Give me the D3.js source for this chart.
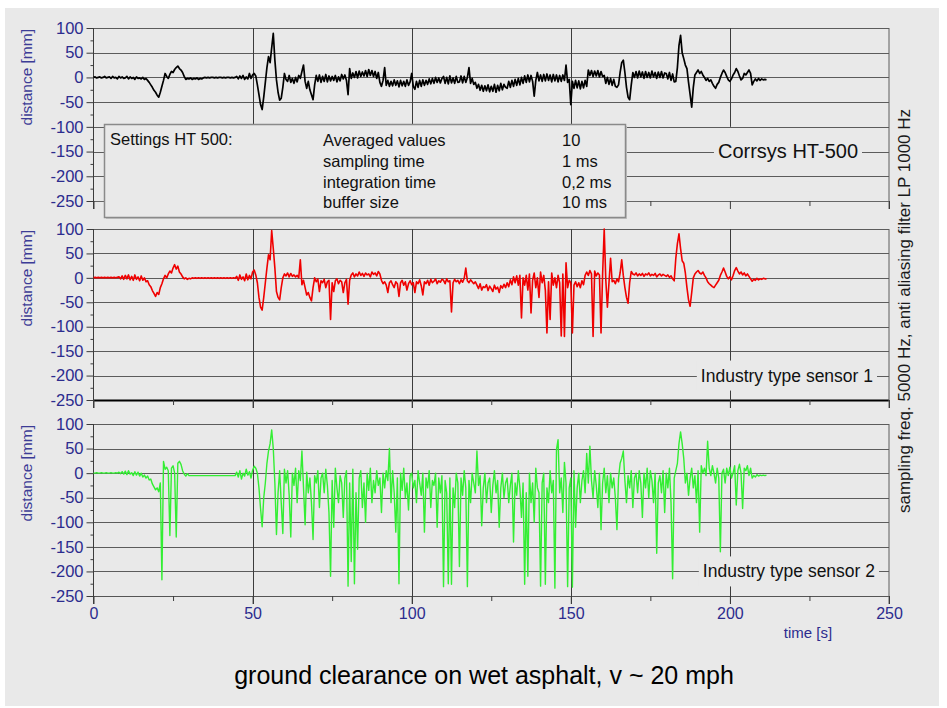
<!DOCTYPE html>
<html>
<head>
<meta charset="utf-8">
<script src="https://cdn.jsdelivr.net/npm/d3@7"></script>
<style>
  body { margin: 0; background: #fff; }
  text { font-family: Arial, "Liberation Sans", sans-serif; }
</style>
</head>
<body>
<svg id="chart" width="947" height="708"></svg>
<script>
// samples every 0.5 s (mm)
var step = 0.5;

var ht500 = [
  0,1,-1,0,1,-1,0,2,-1,0, 1,-2,2,-1,0,-3,2,-1,1,-2,
  -1,2,-3,1,-2,0,-4,1,-2,-1, -3,0,-4,-2,-6,-10,-15,-20,-26,-30,
  -36,-40,-30,-18,-6,8,2,-2,6,12, 10,16,20,23,18,15,10,2,-4,-2,
  -3,-1,-4,-2,-3,-1,-4,-2,-3,-1, 0,-1,0,-1,0,0,-1,0,-1,0,
  0,-1,0,-1,0,0,-1,0,-1,0, 2,-3,3,-2,4,-4,1,-3,8,-2,
  5,8,3,-15,-35,-55,-65,-40,-10,20, 42,30,60,89,35,-5,-30,-46,-42,-20,
  8,-4,-8,4,-10,-2,-12,0,-9,4, -2,12,25,-8,-22,-8,-25,-35,-45,-15,
  4,-8,5,-10,2,-8,6,-9,3,-7, 2,-6,4,-9,1,-7,6,-3,5,-6,
  -35,18,-2,9,0,12,-1,13,2,11, 3,14,2,16,4,14,2,12,-2,10,
  -10,-18,-6,20,-16,-6,-18,-8,-17,-5, -16,-7,-19,-6,-17,-8,-18,-5,-16,-9,
  8,-18,-24,-8,-20,-6,-18,-5,-16,-6, -14,-3,-13,-2,-12,0,-10,-1,-11,-2,
  2,-12,0,-13,3,-11,-1,-12,2,-10, -9,3,-11,2,-10,0,20,-12,-2,-14,
  -10,-22,-14,-26,-16,-28,-17,-27,-15,-29, -18,-28,-14,-30,-16,-27,-12,-25,-14,-20,
  -22,-8,-20,-6,-18,-4,-16,-2,-15,0, -12,3,-10,5,-9,4,-8,-38,-6,10,
  -7,5,-8,6,-7,7,-6,5,-9,6, -7,5,-9,4,-8,5,-6,25,-10,-4,
  -55,-8,-22,-6,-21,-7,-23,-8,-21,-6, -18,15,4,14,2,13,3,14,1,12,
  2,4,-12,0,-14,-2,-16,-4,-18,-20, -15,10,30,35,10,-20,-40,-45,-15,10,
  0,12,-1,13,1,11,-2,12,0,10, -1,13,1,10,-2,11,0,12,-1,9,
  8,-3,10,-6,7,-9,-8,20,65,85, 50,38,25,18,-10,-35,-60,-20,5,10,
  15,8,12,5,0,-6,-2,-8,-5,-12, -18,-22,-14,-10,0,8,15,10,2,-5,
  -8,-3,5,10,18,12,3,-5,-2,8, 5,10,15,8,-15,-8,-3,-7,-2,-6, -3,-5,-4,-5
];

var sensor1 = [
  0,1,0,1,0,1,0,1,0,1, 0,1,0,1,0,1,2,-2,4,-3,
  5,-2,6,-4,3,-5,6,-3,2,-6, 4,-5,0,-8,-6,-14,-18,-26,-32,-38,
  -30,-34,-20,-12,-2,5,0,8,14,10, 20,27,18,24,12,8,2,-2,0,-3,
  -1,-2,0,-1,0,-1,0,-1,0,-1, 0,-1,0,-1,0,-1,0,-1,0,-1,
  0,-1,0,-1,0,-1,0,-1,0,-1, 3,-5,6,-3,2,-6,8,-4,5,-2,
  12,16,6,-10,-40,-60,-66,-40,-10,20, 47,37,97,60,20,-28,-40,-45,-20,0,
  8,4,10,2,9,3,6,2,5,0, 37,-14,-5,-20,-35,-30,-40,-47,-20,0,
  -8,-2,-28,-6,-10,-3,-20,-8,-5,-85, -10,-28,-6,-2,-12,-5,-8,-30,-10,-3,
  -54,-5,6,10,2,8,4,12,5,9, 3,10,6,8,2,12,7,10,4,13,
  8,-5,-12,-8,-15,-30,-10,-6,-14,-20, -8,-12,-38,-10,-5,-15,-8,-25,-12,-6,
  -14,-10,-30,-8,-12,-4,-16,-35,-8,-12, -5,-15,-3,-10,-7,-2,-12,-6,-9,-3,
  -5,-12,-2,-8,-6,-70,-10,-3,-8,-5, -12,-4,-9,-1,20,-6,-10,-4,-8,-12,
  -8,-15,-22,-12,-25,-18,-20,-14,-26,-17, -22,-28,-15,-23,-19,-30,-16,-21,-13,-20,
  -10,-18,-4,-14,2,-10,4,-15,5,-82, 0,-15,5,-25,8,-72,-5,10,-20,0,
  -40,12,-10,5,-25,-113,-8,-85,10,-15, 0,-20,5,-10,-119,8,-120,31,-20,-5,
  -10,-113,-15,-8,-18,-10,-20,-6,-14,5, 12,5,15,8,-120,14,4,10,6,-113,
  8,100,-5,-60,-10,40,-8,-5,-12,-2, -8,10,37,5,-20,-40,-52,-10,13,8,
  6,10,4,8,5,9,3,8,6,10, 4,7,5,9,2,6,8,4,7,5,
  3,6,1,4,-2,-6,40,70,90,60, 35,30,10,-20,-45,-58,-30,0,8,12,
  15,10,8,12,5,0,-8,-12,-15,-18, -20,-15,-10,-5,5,12,20,12,3,-2,
  2,-4,5,15,21,14,8,12,6,10, 4,8,3,-2,-7,-3,-5,-1,-4,-2, -3,-1,-2,-2
];

var sensor2 = [
  0,0,1,0,0,1,0,0,1,0, 0,1,0,0,1,0,2,-1,3,-2,
  4,-3,5,-2,1,-5,3,-4,2,-6, 0,-8,-4,-10,-6,-14,-12,-22,-28,-34,
  -30,-38,-20,-217,24,8,12,5,-127,10, 15,0,-130,20,24,18,5,-2,-6,-1,
  -5,-5,-5,-5,-5,-5,-5,-5,-5,-5, -5,-5,-5,-5,-5,-5,-5,-5,-5,-5,
  -5,-5,-5,-5,-5,-5,-5,-5,-5,-5, 2,-8,5,-12,0,-6,8,-4,3,-10,
  6,14,10,0,-30,-72,-109,-50,-20,20, 45,60,88,50,-20,-125,-40,5,-60,-123,
  8,-20,5,-45,-130,0,-25,10,-60,5, -15,45,-30,-105,2,-40,-10,-60,-135,-5,
  -20,5,-70,-10,0,-40,8,-25,-80,-210, -15,-110,10,-30,-60,-5,-20,-90,-10,5,
  -230,-20,-180,8,-225,-40,-155,-10,5,-70, -20,-100,0,-35,10,-60,-15,-40,5,-25,
  -10,-80,0,-30,5,-15,50,-60,5,-40, -120,-10,-225,0,-35,10,-50,-20,-75,-5,
  0,-30,-15,-60,5,-20,-45,0,-120,-10, -30,5,-70,-15,-25,0,-110,-10,-40,-5,
  -231,-15,-40,-225,-10,-226,-30,-70,0,-20, -190,-10,-45,5,-30,-231,-15,-60,0,-20,
  -40,45,-25,-5,-107,-30,0,-60,-20,-10, -80,-25,5,-40,-15,-110,-30,0,-50,-20,
  -10,-60,-25,0,-140,-20,-45,5,-30,-90, -20,-226,-40,-210,0,-60,-20,-100,10,-30,
  -40,-230,-20,0,-226,-30,-60,5,-40,-15, -234,48,68,-40,-10,-80,22,-20,-231,-30,
  -10,-232,5,-110,-30,0,-60,-15,5,-40, 40,-20,55,-15,-50,5,-25,-70,0,-115,
  -20,10,-40,-5,-60,0,-30,-10,-50,-115, -10,20,30,45,-15,-60,-5,-30,5,-70,
  -10,0,-40,5,-20,-90,0,-30,10,-50, 5,-15,-60,0,-163,-20,-5,-40,5,-80,
  0,-30,10,-60,-215,-10,5,20,60,84, 60,30,-20,0,-45,-10,10,-30,-5,-60,
  5,-120,15,0,10,-5,65,10,-5,15, 0,-20,10,-10,-160,0,8,-20,10,-5,
  12,-10,0,15,-65,5,18,0,-72,10, 5,15,-5,10,-10,-5,-8,-3,-6,-4, -5,-4,-5,-4
];

var yTicks = [-250, -200, -150, -100, -50, 0, 50, 100];
var yMinor = [-225, -175, -125, -75, -25, 25, 75];
var xTicks = [0, 50, 100, 150, 200, 250];
var xMinor = [25, 75, 125, 175, 225];

var settingNames = ['Averaged values', 'sampling time', 'integration time', 'buffer size'];
var settingValues = ['10', '1 ms', '0,2 ms', '10 ms'];

var blue = '#2c2c8e';
var svg = d3.select('#chart');

svg.append('rect')
  .attr('x', 5).attr('y', 8)
  .attr('width', 934).attr('height', 698)
  .attr('fill', '#e9e9e9');

var x = d3.scaleLinear().domain([0, 250]).range([93.5, 889]);

var panels = [
  {values: ht500, color: '#000', width: 1.7, top: 28, bottom: 201, label: 'Corrsys HT-500',
    labelAt: -150, labelEnd: 858, labelSize: 20, gridStop: -100, baseColor: '#666', baseWidth: 1},
  {values: sensor1, color: '#f00000', width: 1.6, top: 229, bottom: 400, label: 'Industry type sensor 1',
    labelAt: -200, labelEnd: 873, labelSize: 17.5, gridStop: -250, baseColor: '#000', baseWidth: 2},
  {values: sensor2, color: '#33ee33', width: 1.4, top: 424, bottom: 596, label: 'Industry type sensor 2',
    labelAt: -200, labelEnd: 875, labelSize: 17.5, gridStop: -250, baseColor: '#555', baseWidth: 1}
];

var plain = function(d) { return String(d); };

panels.forEach(function(p, pi) {
  var y = d3.scaleLinear().domain([-250, 100]).range([p.bottom, p.top]);
  var g = svg.append('g');

  // horizontal grid
  g.selectAll('line.hgrid')
    .data(yTicks)
    .enter().append('line')
    .attr('x1', x(0)).attr('x2', x(250))
    .attr('y1', function(d) { return Math.round(y(d)) + 0.5; })
    .attr('y2', function(d) { return Math.round(y(d)) + 0.5; })
    .attr('stroke', function(d) { return d === -250 ? p.baseColor : '#5c5c5c'; })
    .attr('stroke-width', function(d) { return d === -250 ? p.baseWidth : 1; });

  // vertical grid (stops early in the top panel)
  g.selectAll('line.vgrid')
    .data([50, 100, 150, 200])
    .enter().append('line')
    .attr('x1', function(d) { return Math.round(x(d)) + 0.5; })
    .attr('x2', function(d) { return Math.round(x(d)) + 0.5; })
    .attr('y1', p.top)
    .attr('y2', y(p.gridStop) + (p.gridStop === -250 ? 8 : 0))
    .attr('stroke', '#3c3c3c');

  // frame: left axis and right border
  g.append('line')
    .attr('x1', x(0)).attr('x2', x(0))
    .attr('y1', p.top).attr('y2', p.bottom + 8)
    .attr('stroke', '#3c3c3c');
  g.append('line')
    .attr('x1', x(250)).attr('x2', x(250))
    .attr('y1', p.top).attr('y2', p.bottom + 8)
    .attr('stroke', '#5c5c5c');

  // x ticks below each panel
  var xAxis = g.append('g')
    .attr('transform', 'translate(0,' + p.bottom + ')')
    .attr('color', '#3c3c3c')
    .call(d3.axisBottom(x).tickValues(xTicks).tickSize(8).tickPadding(4)
      .tickFormat(pi === 2 ? plain : ''));
  xAxis.select('.domain').remove();
  xAxis.selectAll('text')
    .attr('fill', blue)
    .style('font-size', '16px')
    .style('font-family', 'Arial, "Liberation Sans", sans-serif');
  var xMin = g.append('g')
    .attr('transform', 'translate(0,' + p.bottom + ')')
    .attr('color', '#3c3c3c')
    .call(d3.axisBottom(x).tickValues(xMinor).tickSize(5).tickFormat(''));
  xMin.select('.domain').remove();

  // y ticks
  var yAxis = g.append('g')
    .attr('transform', 'translate(' + x(0) + ',0)')
    .attr('color', '#3c3c3c')
    .call(d3.axisLeft(y).tickValues(yTicks).tickSize(7).tickPadding(3).tickFormat(plain));
  yAxis.select('.domain').remove();
  yAxis.selectAll('text')
    .attr('fill', blue)
    .style('font-size', '16.5px')
    .style('font-family', 'Arial, "Liberation Sans", sans-serif');
  var yMin = g.append('g')
    .attr('transform', 'translate(' + x(0) + ',0)')
    .attr('color', '#3c3c3c')
    .call(d3.axisLeft(y).tickValues(yMinor).tickSize(3).tickFormat(''));
  yMin.select('.domain').remove();

  g.append('text')
    .attr('transform', 'translate(32,' + (p.top + 1) + ') rotate(-90)')
    .attr('text-anchor', 'end')
    .attr('fill', '#3c3c96')
    .style('font-size', '15.5px')
    .text('distance [mm]');

  // trace
  var line = d3.line()
    .x(function(d, i) { return x(i * step); })
    .y(function(d) { return y(d); });

  g.append('path')
    .datum(p.values)
    .attr('d', line)
    .attr('fill', 'none')
    .attr('stroke', p.color)
    .attr('stroke-width', p.width)
    .attr('stroke-linejoin', 'round');

  // label sitting on a grid line, with a patch hiding the grid behind it
  var ly = y(p.labelAt);
  var patch = g.append('rect')
    .attr('y', ly - 15)
    .attr('height', 30)
    .attr('fill', '#e9e9e9');
  var label = g.append('text')
    .attr('x', p.labelEnd)
    .attr('y', ly + 6)
    .attr('text-anchor', 'end')
    .attr('fill', '#111')
    .style('font-size', p.labelSize + 'px')
    .text(p.label);
  var w = label.node().getComputedTextLength();
  patch.attr('x', p.labelEnd - w - 4).attr('width', w + 8);
});

// settings box in the top panel
var box = svg.append('g');
box.append('rect')
  .attr('x', 106).attr('y', 126)
  .attr('width', 521).attr('height', 93)
  .attr('fill', '#c4c4c4');
box.append('rect')
  .attr('x', 104.5).attr('y', 124.5)
  .attr('width', 521).attr('height', 93)
  .attr('fill', '#e9e9e9')
  .attr('stroke', '#8a8a8a')
  .attr('stroke-width', 1.5);
box.append('text')
  .attr('x', 110).attr('y', 145)
  .attr('fill', '#111')
  .style('font-size', '16.5px')
  .text('Settings HT 500:');
box.selectAll('text.name')
  .data(settingNames)
  .enter().append('text')
  .attr('x', 323)
  .attr('y', function(d, i) { return 146 + i * 20.8; })
  .attr('fill', '#111')
  .style('font-size', '16.5px')
  .text(function(d) { return d; });
box.selectAll('text.value')
  .data(settingValues)
  .enter().append('text')
  .attr('x', 562)
  .attr('y', function(d, i) { return 146 + i * 20.8; })
  .attr('fill', '#111')
  .style('font-size', '16.5px')
  .text(function(d) { return d; });

// right side note, axis title and chart title
svg.append('text')
  .attr('transform', 'translate(910,311) rotate(-90)')
  .attr('text-anchor', 'middle')
  .attr('fill', '#1a1a1a')
  .style('font-size', '17px')
  .text('sampling freq. 5000 Hz, anti aliasing filter LP 1000 Hz');

svg.append('text')
  .attr('x', 808).attr('y', 638)
  .attr('text-anchor', 'middle')
  .attr('fill', blue)
  .style('font-size', '15px')
  .text('time [s]');

svg.append('text')
  .attr('x', 484).attr('y', 684)
  .attr('text-anchor', 'middle')
  .attr('fill', '#000')
  .style('font-size', '25px')
  .text('ground clearance on wet asphalt, v ~ 20 mph');
</script>
</body>
</html>
